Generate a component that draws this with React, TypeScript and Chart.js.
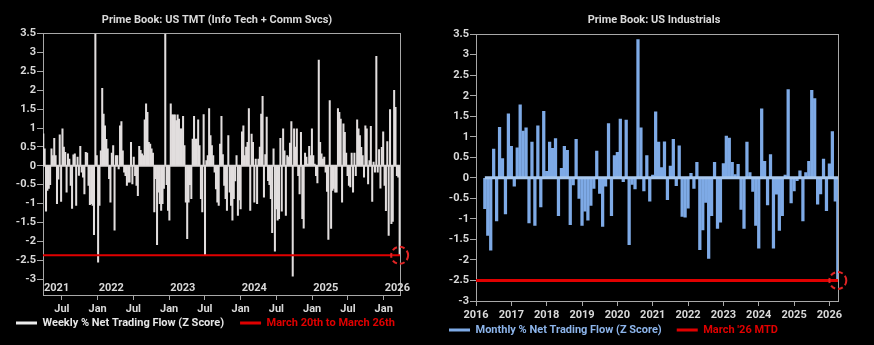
import React, { useEffect, useRef } from 'react';
import { Chart, registerables } from 'chart.js';

Chart.register(...registerables);

const FONT = 'Roboto, "Noto Sans", "DejaVu Sans", sans-serif';
const TEXT = '#d9d9d9';
const AXIS = '#a8a8a8';
const RED = '#e00000';

// ---------- Left panel: US TMT (weekly) ----------
const tmtTitle = 'Prime Book: US TMT (Info Tech + Comm Svcs)';
const tmtSeriesLabel = 'Weekly % Net Trading Flow (Z Score)';
const tmtRedLabel = 'March 20th to March 26th';
const tmtFirstWeek = 2021.24; // week of 29 Mar 2021, as a fractional year
const tmtXMin = 2021.236;
const tmtXMax = 2026.228;
const tmtValues = [
  0.85, 0.45, -1.2, -0.65, -0.6, -0.5, 0.45, 0.27, 0.73, 0.27,
  -1.0, -0.35, 0.82, -0.94, 0.98, 0.5, 0.36, -0.7, 0.32, 0.18,
  -0.52, -1.13, 0.29, 0.32, -1.05, 0.23, -0.25, 0.52, -0.17, -0.3,
  -0.74, 0.36, 0.34, -0.52, -1.03, -1.0, -1.05, -1.82, 3.5, 0.27,
  -2.55, -1.05, 0.4, 2.05, 1.37, 1.06, 0.7, 0.45, -0.34, -0.96,
  0.34, 0.54, -1.7, 0.27, 0.27, -0.08, 1.06, 1.17, 0.4, -0.17,
  -0.26, -0.52, -0.43, -0.43, 0.62, -0.48, 0.23, -0.26, -0.52, -0.79,
  0.52, 0.41, 0.32, 0.27, 1.22, 1.64, 1.42, 0.62, 0.58, 0.45,
  0.34, -1.22, -0.34, -2.09, -0.7, -1.0, -1.18, -1.0, -0.6, 3.5,
  -0.5, -1.18, -1.44, 1.64, 1.35, 1.35, 1.35, 1.2, 1.35, 1.24,
  0.98, 0.98, 1.31, 0.54, -0.96, -1.93, -0.96, -0.5, -0.87, 0.71,
  1.31, 0.71, 0.71, 1.22, 0.54, -0.87, -1.22, 1.36, -2.35, 0.14,
  0.27, 1.52, 0.8, 0.54, 0.27, -0.17, -0.61, -0.96, -1.05, 0.58,
  1.31, 0.3, -0.52, -0.87, -1.18, 0.8, -0.7, -1.05, -1.44, -0.87,
  -0.4, 0.27, -1.31, -0.9, -1.14, 0.9, 1.06, 0.27, 0.5, 0.62,
  1.52, -1.18, 0.84, 0.62, -0.96, 0.18, -1.0, 0.18, 0.5, 1.37,
  1.84, -0.83, 0.3, 1.29, -0.39, -0.5, -0.87, -1.77, 0.45, -2.26,
  -1.14, -1.44, -1.4, 0.73, -1.2, 0.98, 0.4, -1.31, 0.27, 0.23,
  0.6, 1.17, -2.92, 0.98, 0.5, 0.98, -0.26, -0.74, 0.89, -1.4,
  -1.65, 0.34, 0.23, 0.05, 0.52, 0.27, 0.98, 0.27, 0.05, -0.26,
  -0.45, 2.8, 0.62, 0.32, 0.18, 0.23, -0.17, -0.68, -1.95, 1.73,
  -1.66, -0.65, -0.6, -0.7, -0.7, 1.52, 1.42, 1.24, -0.96, 1.11,
  0.89, 0.34, -0.26, -0.52, -0.56, 0.34, -0.7, 0.34, -0.26, 1.22,
  0.98, 0.8, 0.49, 0.27, -0.3, 1.06, 0.98, -0.48, 0.14, 1.05,
  -0.94, 0.1, -0.17, 2.9, -0.17, 0.43, -0.59, 0.49, 0.9, -0.52,
  -1.19, 0.64, -1.84, 1.49, -1.53, -1.47, 2.0, 1.55, -0.26, -0.3, -2.37,
];
const tmtRedLevel = -2.37;
const tmtTickPositions = [2021.5, 2022, 2022.5, 2023, 2023.5, 2024, 2024.5, 2025, 2025.5, 2026];
const tmtTickLabels = ['Jul', 'Jan', 'Jul', 'Jan', 'Jul', 'Jan', 'Jul', 'Jan', 'Jul', 'Jan'];
const tmtYearPositions = [2021, 2022, 2023, 2024, 2025, 2026];
const tmtYearLabels = ['2021', '2022', '2023', '2024', '2025', '2026'];
const tmtYMin = -3.42;
const tmtYMax = 3.5;
const tmtYTicks = [-3, -2.5, -2, -1.5, -1, -0.5, 0, 0.5, 1, 1.5, 2, 2.5, 3, 3.5];

// ---------- Right panel: US Industrials (monthly) ----------
const indTitle = 'Prime Book: US Industrials';
const indSeriesLabel = 'Monthly % Net Trading Flow (Z Score)';
const indRedLabel = "March '26 MTD";
const indFirstYear = 2016;
const indFirstMonth = 3; // month-end of March 2016
const indLastDay = 26; // last point is month-to-date (26 Mar 2026)
const indXMin = 2016;
const indXMax = 2026.243;
const indValues = [
  -0.75, -1.4, -1.76, 0.7, -1.05, 1.23, 0.47, -0.88, 1.56,
  0.77, -0.2, 0.73, 1.78, 1.14, 1.22, -1.1, 0.87, -1.16, 1.27, -0.71, 1.62,
  0.16, 0.87, 0.72, 0.96, -0.92, 0.23, 0.77, 0.67, -1.14, -0.17, 0.94, -0.5,
  -1.16, -0.81, -1.03, -0.67, -0.26, 0.65, -0.38, -1.18, -0.2, 1.32, -0.92, 0.54,
  0.62, 1.43, -0.09, 1.41, -1.63, -0.16, -0.27, 3.37, 1.22, -0.32, 0.54, -0.57,
  0.07, 1.61, 0.87, 0.25, 0.88, -0.53, 0.29, 0.94, -0.19, 0.78, -0.94, -0.96,
  -0.74, 0.11, -0.26, 0.38, -1.75, -1.27, -0.6, -1.96, -0.92, 0.38, -1.23, -1.08,
  0.35, 1.02, 0.97, 0.38, 0.08, 0.33, -0.77, -1.23, 0.87, 0.13, -0.33, -1.16,
  -1.71, 1.68, 0.4, -0.66, 0.57, -1.71, -0.4, -1.28, -0.92, 0.07, 2.15, -0.61,
  -0.32, -0.07, 0.17, -1.05, 0.13, 0.4, 2.13, 1.93, -0.64, -0.39, 0.46, -0.8,
  0.34, 1.13, -0.57, -2.5,
];
const indRedLevel = -2.5;
const indYearTicks = [2016, 2017, 2018, 2019, 2020, 2021, 2022, 2023, 2024, 2025, 2026];
const indYearTickLabels = ['2016', '2017', '2018', '2019', '2020', '2021', '2022', '2023', '2024', '2025', '2026'];
const indYMin = -3;
const indYMax = 3.5;
const indYTicks = [-3, -2.5, -2, -1.5, -1, -0.5, 0, 0.5, 1, 1.5, 2, 2.5, 3, 3.5];

// ---------- positions on the time axis ----------
const tmtX = tmtValues.map((_, i) => tmtFirstWeek + (i * 7) / 365.25);
const indX = indValues.map((_, i) => {
  const m = indFirstMonth + i;
  if (i === indValues.length - 1) return indFirstYear + (m - 1) / 12 + indLastDay / 365;
  return indFirstYear + m / 12;
});

const tickFont = { family: FONT, size: 11, weight: 'bold' as const };

function overlayPlugin(opts: { circleX: number; circleY: number; legendCenter: number; yearPos?: number[]; yearText?: string[] }) {
  return {
    id: 'overlay',
    afterLayout(chart: any) {
      const lg = chart.legend;
      if (!lg) return;
      const pad = lg.options.labels.padding;
      const top = opts.legendCenter - pad - 5.5;
      lg.top = top;
      lg.bottom = chart.height;
      lg.height = lg.bottom - lg.top;
    },
    afterDatasetsDraw(chart: any) {
      const { ctx, scales } = chart;
      const cx = scales.x.getPixelForValue(opts.circleX);
      const cy = scales.y.getPixelForValue(opts.circleY);
      ctx.save();
      ctx.beginPath();
      ctx.setLineDash([5, 3]);
      ctx.lineWidth = 2;
      ctx.strokeStyle = '#e02424';
      ctx.arc(cx, cy, 8.5, 0, Math.PI * 2);
      ctx.stroke();
      ctx.restore();
    },
    afterDraw(chart: any) {
      if (!opts.yearPos || !opts.yearText) return;
      const { ctx, scales, chartArea } = chart;
      ctx.save();
      ctx.font = `bold 11px ${FONT}`;
      ctx.fillStyle = TEXT;
      ctx.textAlign = 'left';
      ctx.textBaseline = 'middle';
      opts.yearPos.forEach((v, i) => {
        const px = Math.max(chartArea.left + 1, scales.x.getPixelForValue(v) + 1);
        ctx.fillText(opts.yearText![i], px, chartArea.bottom - 7);
      });
      ctx.restore();
    },
  };
}

function makeConfig(p: any) {
  return {
    type: 'bar',
    data: {
      datasets: [
        {
          type: 'bar',
          label: p.seriesLabel,
          data: p.values.map((v: number, i: number) => ({ x: p.xs[i], y: v })),
          backgroundColor: p.barColor,
          borderWidth: 0,
          barThickness: p.barThickness,
          order: 3,
        },
        {
          type: 'line',
          label: 'zero',
          data: [{ x: p.zeroFrom, y: 0 }, { x: p.xMax, y: 0 }],
          borderColor: p.zeroColor,
          borderWidth: p.zeroWidth,
          pointRadius: 0,
          order: 2,
        },
        {
          type: 'line',
          label: p.redLabel,
          data: [{ x: p.xMin, y: p.redLevel }, { x: p.xMax, y: p.redLevel }],
          borderColor: RED,
          borderWidth: p.redWidth,
          pointRadius: 0,
          order: 1,
        },
      ],
    },
    options: {
      responsive: false,
      animation: false,
      events: [],
      layout: { padding: { left: 0, right: 0, top: 0, bottom: 0 } },
      plugins: {
        tooltip: { enabled: false },
        title: {
          display: true,
          text: p.title,
          color: TEXT,
          font: { family: FONT, size: 11, weight: 'bold' },
          padding: { top: p.titleTop, bottom: 7 },
        },
        legend: {
          display: true,
          position: 'bottom',
          align: 'start',
          maxHeight: p.legendHeight,
          labels: {
            boxWidth: 21,
            boxHeight: 3,
            padding: p.legendPad,
            color: TEXT,
            font: { family: FONT, size: 11, weight: 'bold' },
            generateLabels: () => [
              { text: p.seriesLabel, fillStyle: p.legendSeriesColor, strokeStyle: p.legendSeriesColor, lineWidth: 0, fontColor: p.legendSeriesText, hidden: false, datasetIndex: 0 },
              { text: p.redLabel, fillStyle: RED, strokeStyle: RED, lineWidth: 0, fontColor: RED, hidden: false, datasetIndex: 2 },
            ],
          },
        },
      },
      scales: {
        x: {
          type: 'linear',
          position: 'bottom',
          min: p.xMin,
          max: p.xMax,
          offset: false,
          grid: { display: true, drawOnChartArea: false, drawTicks: true, tickLength: 5, color: AXIS, offset: false },
          border: { display: true, color: AXIS, width: 1 },
          ticks: {
            autoSkip: false,
            maxRotation: 0,
            padding: 3,
            color: TEXT,
            font: tickFont,
            callback: (_v: any, i: number) => p.xTickLabels[i],
          },
          afterBuildTicks: (s: any) => {
            s.ticks = p.xTicks.map((v: number) => ({ value: v }));
          },
          afterFit: (s: any) => {
            s.height = p.xAxisHeight;
          },
        },
        x2: {
          type: 'linear',
          position: 'top',
          min: p.xMin,
          max: p.xMax,
          offset: false,
          grid: { display: false },
          border: { display: true, color: AXIS, width: 1 },
          ticks: { display: false },
          afterFit: (s: any) => {
            s.height = 0;
          },
        },
        y: {
          type: 'linear',
          position: 'left',
          min: p.yMin,
          max: p.yMax,
          grid: { display: true, drawOnChartArea: false, drawTicks: true, tickLength: 6, color: AXIS },
          border: { display: true, color: AXIS, width: 1 },
          ticks: { padding: 1, color: TEXT, font: tickFont, callback: (v: any) => String(v) },
          afterBuildTicks: (s: any) => {
            s.ticks = p.yTicks.map((v: number) => ({ value: v }));
          },
          afterFit: (s: any) => {
            s.width = p.yAxisWidth;
          },
        },
        y2: {
          type: 'linear',
          position: 'right',
          min: p.yMin,
          max: p.yMax,
          grid: { display: false },
          border: { display: true, color: AXIS, width: 1 },
          ticks: { display: false },
          afterFit: (s: any) => {
            s.width = p.rightGap;
          },
        },
      },
    },
    plugins: [overlayPlugin(p.overlay)],
  } as any;
}

export default function App() {
  const leftRef = useRef<HTMLCanvasElement>(null);
  const rightRef = useRef<HTMLCanvasElement>(null);

  useEffect(() => {
    document.body.style.background = '#000';
    const left = new Chart(
      leftRef.current!,
      makeConfig({
        title: tmtTitle,
        titleTop: 13.5,
        seriesLabel: tmtSeriesLabel,
        redLabel: tmtRedLabel,
        values: tmtValues,
        xs: tmtX,
        xMin: tmtXMin,
        xMax: tmtXMax,
        zeroFrom: tmtXMin,
        barColor: '#e2dede',
        barThickness: 1.37,
        zeroColor: '#dcd8d8',
        zeroWidth: 2,
        redLevel: tmtRedLevel,
        redWidth: 2,
        legendSeriesColor: '#ececec',
        legendSeriesText: '#e6e6e6',
        legendPad: 16,
        legendHeight: 26,
        xAxisHeight: 24,
        xTicks: tmtTickPositions,
        xTickLabels: tmtTickLabels,
        yMin: tmtYMin,
        yMax: tmtYMax,
        yTicks: tmtYTicks,
        yAxisWidth: 43,
        rightGap: 34,
        overlay: {
          circleX: tmtX[tmtX.length - 1],
          circleY: tmtRedLevel,
          legendCenter: 323,
          yearPos: tmtYearPositions,
          yearText: tmtYearLabels,
        },
      })
    );
    const right = new Chart(
      rightRef.current!,
      makeConfig({
        title: indTitle,
        titleTop: 14,
        seriesLabel: indSeriesLabel,
        redLabel: indRedLabel,
        values: indValues,
        xs: indX,
        xMin: indXMin,
        xMax: indXMax,
        zeroFrom: indX[0],
        barColor: '#7eaae6',
        barThickness: 2.6,
        zeroColor: '#a8c8ef',
        zeroWidth: 3,
        redLevel: indRedLevel,
        redWidth: 3,
        legendSeriesColor: '#7eaae6',
        legendSeriesText: '#8cb4ea',
        legendPad: 15,
        legendHeight: 22,
        xAxisHeight: 22,
        xTicks: indYearTicks,
        xTickLabels: indYearTickLabels,
        yMin: indYMin,
        yMax: indYMax,
        yTicks: indYTicks,
        yAxisWidth: 42,
        rightGap: 36,
        overlay: {
          circleX: indX[indX.length - 1],
          circleY: indRedLevel,
          legendCenter: 330,
        },
      })
    );
    return () => {
      left.destroy();
      right.destroy();
    };
  }, []);

  return (
    <div style={{ position: 'fixed', left: 0, top: 0, width: 874, height: 345, background: '#000', overflow: 'hidden' }}>
      <canvas ref={leftRef} width={434} height={345} style={{ position: 'absolute', left: 0, top: 0 }} />
      <canvas ref={rightRef} width={440} height={345} style={{ position: 'absolute', left: 434, top: 0 }} />
    </div>
  );
}
